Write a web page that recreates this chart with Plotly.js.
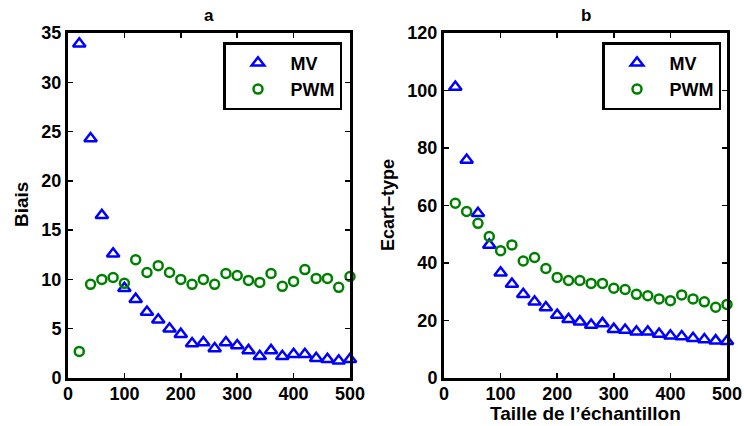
<!DOCTYPE html>
<html><head><meta charset="utf-8">
<script src="https://cdn.plot.ly/plotly-3.0.1.min.js"></script>
<style>body{margin:0;padding:0;background:#fff}#c{width:744px;height:426px}</style>
</head><body><div id="c"></div>
<script>
const sampleSize = [20,40,60,80,100,120,140,160,180,200,220,240,260,280,300,320,340,360,380,400,420,440,460,480,500];
const biasMV  = [33.9,24.3,16.5,12.6,9.1,8.0,6.7,5.9,5.0,4.45,3.5,3.6,3.0,3.6,3.3,2.8,2.2,2.8,2.2,2.4,2.4,2.0,1.9,1.75,1.9];
const biasPWM = [2.7,9.5,10.0,10.2,9.6,12.0,10.7,11.4,10.7,10.0,9.5,10.0,9.5,10.6,10.4,9.9,9.7,10.6,9.3,9.8,11.0,10.1,10.1,9.2,10.3];
const sdMV  = [101.2,75.8,57.3,46.3,36.6,32.7,29.1,26.5,24.5,21.9,20.4,19.6,18.4,19.0,17.0,16.7,16.1,16.1,15.3,14.7,14.4,13.8,13.4,13.0,12.8];
const sdPWM = [60.8,57.9,53.8,49.2,44.3,46.3,40.7,41.9,38.1,35.0,33.9,33.9,32.9,32.9,31.2,30.8,29.1,28.6,27.5,26.9,28.9,27.5,26.5,24.6,25.6];
const seriesNames = ['MV','PWM'];
const panelTitles = ['a','b'];
const yTitles = ['Biais','Ecart\u2013type'];
const xTitle = 'Taille de l\u2019\u00e9chantillon';
const xTicks = [0,100,200,300,400,500];
const yTicksA = [0,5,10,15,20,25,30,35];
const yTicksB = [0,20,40,60,80,100,120];

const FONT = 'Liberation Sans, Arial, sans-serif';
const blue = '#0000ff', green = '#008000';
const B = s => '<b>'+s+'</b>';
const triMarker = {symbol:'triangle-up-open', size:11, color:blue, line:{width:2.5, color:blue}};
const cirMarker = {symbol:'circle-open', size:9, color:green, line:{width:2.5, color:green}};

const traces = [
  {x:sampleSize, y:biasMV, mode:'markers', name:B(seriesNames[0]), marker:triMarker, xaxis:'x', yaxis:'y', legend:'legend', cliponaxis:false},
  {x:sampleSize, y:biasPWM, mode:'markers', name:B(seriesNames[1]), marker:cirMarker, xaxis:'x', yaxis:'y', legend:'legend', cliponaxis:false},
  {x:sampleSize, y:sdMV, mode:'markers', name:B(seriesNames[0]), marker:triMarker, xaxis:'x2', yaxis:'y2', legend:'legend2', cliponaxis:false},
  {x:sampleSize, y:sdPWM, mode:'markers', name:B(seriesNames[1]), marker:cirMarker, xaxis:'x2', yaxis:'y2', legend:'legend2', cliponaxis:false}
];

const axBase = {
  showline:true, linecolor:'#000', linewidth:3, mirror:'ticks',
  ticks:'inside', ticklen:5, tickwidth:1.5, tickcolor:'#000',
  showgrid:false, zeroline:false, tickmode:'array',
  tickfont:{family:FONT, size:18, color:'#000', weight:700}
};
const W=744, H=426;
const dom = (a,b,tot)=>[a/tot,b/tot];
const yd = [(H-378)/H, (H-33)/H];

const legBase = {
  bordercolor:'#000', borderwidth:2.5, bgcolor:'#fff',
  font:{family:FONT, size:18, color:'#000', weight:700},
  xanchor:'left', yanchor:'top', itemwidth:55, tracegroupgap:0
};

const layout = {
  width:W, height:H, margin:{l:0,r:0,t:0,b:0},
  paper_bgcolor:'#fff', plot_bgcolor:'#fff',
  showlegend:true,
  xaxis: Object.assign({}, axBase, {domain:dom(68,350,W), range:[0,500], tickvals:xTicks, ticktext:xTicks.map(v=>B(v)), anchor:'y', ticklabelstandoff:-3}),
  yaxis: Object.assign({}, axBase, {domain:yd, range:[0,35], tickvals:yTicksA, ticktext:yTicksA.map(v=>B(v)), anchor:'x'}),
  xaxis2: Object.assign({}, axBase, {domain:dom(444,727,W), range:[0,500], tickvals:xTicks, ticktext:xTicks.map(v=>B(v)), anchor:'y2', ticklabelstandoff:-3}),
  yaxis2: Object.assign({}, axBase, {domain:yd, range:[0,120], tickvals:yTicksB, ticktext:yTicksB.map(v=>B(v)), anchor:'x2'}),
  legend: Object.assign({}, legBase, {x:223/W, y:1-42/H}),
  legend2: Object.assign({}, legBase, {x:602/W, y:1-42/H}),
  annotations:[
    {text:B(panelTitles[0]), xref:'paper', yref:'paper', x:209/W, y:1-16/H, xanchor:'center', yanchor:'middle', showarrow:false, font:{family:FONT,size:17,color:'#000'}},
    {text:B(panelTitles[1]), xref:'paper', yref:'paper', x:585.5/W, y:1-16/H, xanchor:'center', yanchor:'middle', showarrow:false, font:{family:FONT,size:17,color:'#000'}},
    {text:B(yTitles[0]), xref:'paper', yref:'paper', x:22/W, y:1-205/H, xanchor:'center', yanchor:'middle', textangle:-90, showarrow:false, font:{family:FONT,size:19,color:'#000'}},
    {text:B(yTitles[1]), xref:'paper', yref:'paper', x:388/W, y:1-205/H, xanchor:'center', yanchor:'middle', textangle:-90, showarrow:false, font:{family:FONT,size:18,color:'#000'}},
    {text:B(xTitle), xref:'paper', yref:'paper', x:585.5/W, y:1-413/H, xanchor:'center', yanchor:'middle', showarrow:false, font:{family:FONT,size:19,color:'#000'}}
  ]
};

Plotly.newPlot('c', traces, layout, {displayModeBar:false, staticPlot:true});
</script>
</body></html>
